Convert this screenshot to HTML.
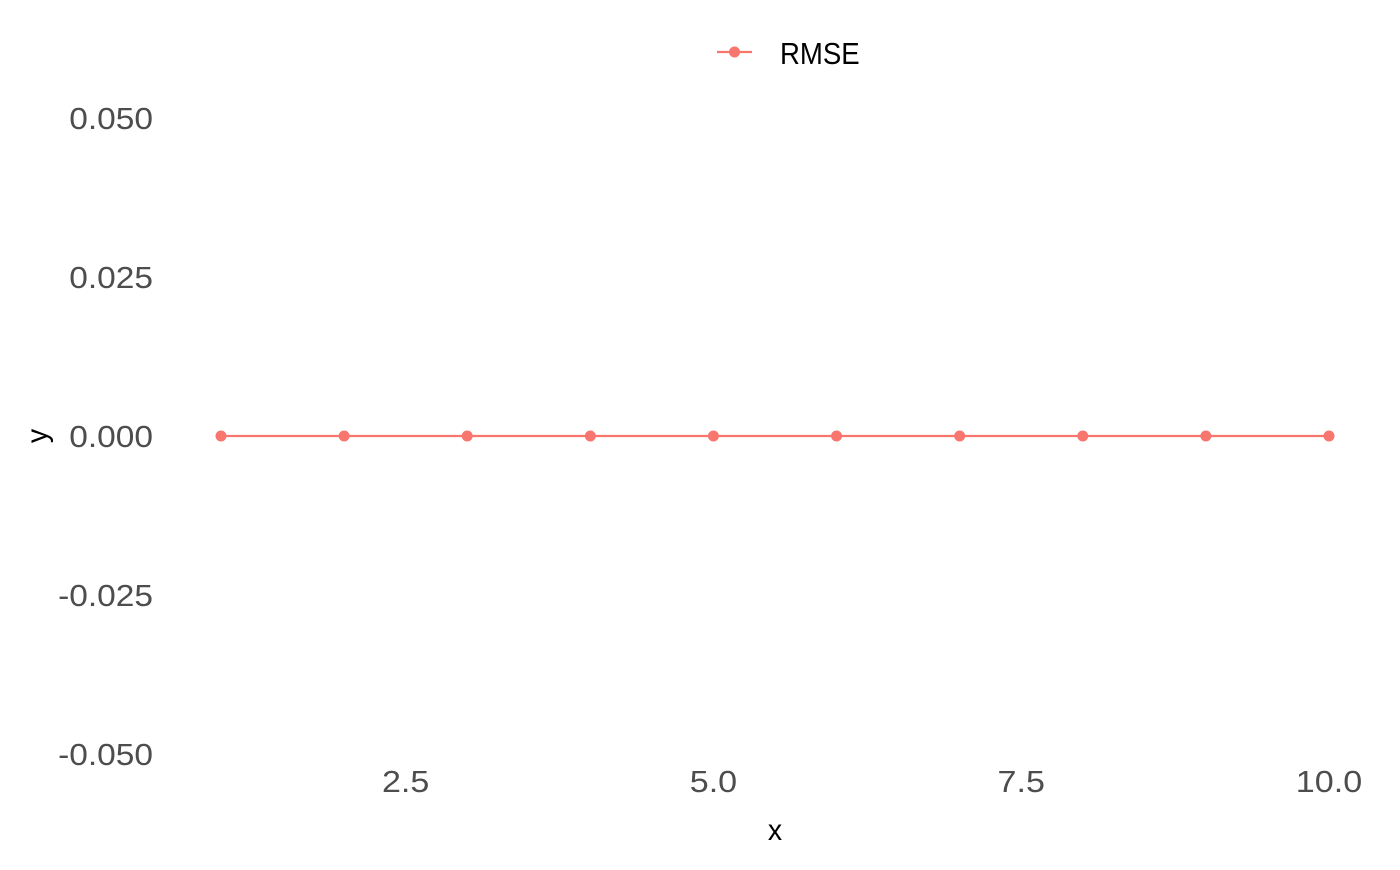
<!DOCTYPE html>
<html><head><meta charset="utf-8"><style>
html,body{margin:0;padding:0;background:#fff;}
svg text{font-family:"Liberation Sans",sans-serif;}
</style></head><body>
<svg id="chart" width="1400" height="865" viewBox="0 0 1400 865">
<g id="yticks"></g>
<g id="xticks"></g>
<g id="series"></g>
<text x="0" y="0" transform="translate(47,436) rotate(-90) scale(0.95,1)" text-anchor="middle" font-size="30" fill="#000">y</text>
<text x="775" y="840" transform="translate(775,0) scale(0.95,1) translate(-775,0)" text-anchor="middle" font-size="30" fill="#000">x</text>
<g>
<line x1="717" y1="52" x2="752" y2="52" stroke="#F8766D" stroke-width="2.2"/>
<circle cx="734.5" cy="52" r="5.5" fill="#F8766D"/>
<text x="780" y="64" transform="translate(780,0) scale(0.89,1) translate(-780,0)" font-size="31" fill="#000">RMSE</text>
</g>
</svg>
<script>
const xValues=[1,2,3,4,5,6,7,8,9,10];
const rmseValues=[0,0,0,0,0,0,0,0,0,0];
const yTickValues=[0.05,0.025,0,-0.025,-0.05];
const yTickLabels=["0.050","0.025","0.000","-0.025","-0.050"];
const xTickValues=[2.5,5,7.5,10];
const xTickLabels=["2.5","5.0","7.5","10.0"];
const NS="http://www.w3.org/2000/svg";
function xs(v){return 221+(v-1)*(1329-221)/9;}
function ys(v){return 436-v*(318/0.05);}
function mk(t,a){const e=document.createElementNS(NS,t);for(const k in a)e.setAttribute(k,a[k]);return e;}
const yg=document.getElementById('yticks');
yTickValues.forEach((v,i)=>{
  const t=mk('text',{x:153,y:ys(v)+11,'text-anchor':'end','font-size':31,fill:'#4d4d4d',transform:`translate(153,0) scale(1.08,1) translate(-153,0)`});
  t.textContent=yTickLabels[i];
  
  
  yg.appendChild(t);
});
const xg=document.getElementById('xticks');
xTickValues.forEach((v,i)=>{
  const x=xs(v);
  const t=mk('text',{x:x,y:792,'text-anchor':'middle','font-size':31,fill:'#4d4d4d',transform:`translate(${x},0) scale(1.1,1) translate(${-x},0)`});
  t.textContent=xTickLabels[i];
  
  
  xg.appendChild(t);
});
const sg=document.getElementById('series');
const pl=mk('polyline',{points:xValues.map((x,i)=>xs(x)+','+ys(rmseValues[i])).join(' '),fill:'none',stroke:'#F8766D','stroke-width':2.2});


sg.appendChild(pl);
xValues.forEach((x,i)=>{
  const c=mk('circle',{cx:xs(x),cy:ys(rmseValues[i]),r:5.5,fill:'#F8766D'});
  
  
  sg.appendChild(c);
});
</script>
</body></html>
